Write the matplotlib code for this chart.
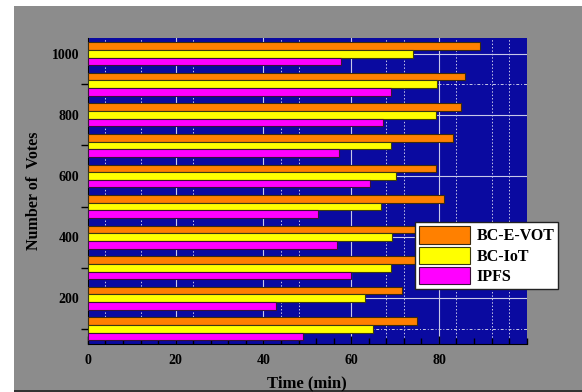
import numpy as np
import matplotlib
matplotlib.use("Agg")
import matplotlib.pyplot as plt
from matplotlib.ticker import MultipleLocator
from matplotlib.patches import Rectangle

votes = [100, 200, 300, 400, 500, 600, 700, 800, 900, 1000]
bc_e_vot = [74.9, 71.5, 76.5, 77.5, 81.2, 79.4, 83.3, 85.1, 85.9, 89.3]
bc_iot = [65.0, 63.2, 69.1, 69.3, 66.9, 70.1, 69.1, 79.4, 79.6, 74.1]
ipfs = [49.0, 42.9, 59.9, 56.8, 52.4, 64.3, 57.2, 67.3, 69.1, 57.7]

# dotted grid lines that show in the original
dotted_x = [4, 12, 24, 44, 48, 68, 72, 84, 92, 96]
dotted_y = [100, 900]

plt.rcParams["font.family"] = ["Liberation Serif", "DejaVu Serif"]
plt.rcParams["font.weight"] = "bold"

fig = plt.figure(figsize=(5.82, 3.92), dpi=100)
fig.patch.set_facecolor("white")
# grey panel with a dark edge at the bottom
fig.patches.append(Rectangle((14 / 582, 0.004), 1 - 14 / 582, 1 - 6 / 392 - 0.004,
                             transform=fig.transFigure, facecolor="#8c8c8c",
                             edgecolor="none", zorder=-10))
fig.patches.append(Rectangle((14 / 582, 0), 1 - 14 / 582, 0.005,
                             transform=fig.transFigure, facecolor="#333333",
                             edgecolor="none", zorder=-9))

ax = fig.add_axes([0.151, 0.122, 0.754, 0.780])
ax.set_facecolor("#0a0aa0")

y = np.array(votes)
h = 25
ax.barh(y + h, bc_e_vot, height=h, color="#ff8000", edgecolor="#3a2a10", linewidth=0.8, label="BC-E-VOT", zorder=3)
ax.barh(y, bc_iot, height=h, color="#ffff00", edgecolor="#3a3a10", linewidth=0.8, label="BC-IoT", zorder=3)
ax.barh(y - h, ipfs, height=h, color="#ff00ff", edgecolor="#3a103a", linewidth=0.8, label="IPFS", zorder=3)

ax.set_xlim(0, 100)
ax.set_ylim(50, 1050)
ax.set_xticks([0, 20, 40, 60, 80])
ax.xaxis.set_minor_locator(MultipleLocator(4))
ax.yaxis.set_major_locator(MultipleLocator(200))
ax.yaxis.set_minor_locator(MultipleLocator(100))

ax.grid(which="major", color="#c8c8e8", linewidth=0.8, zorder=1)
for v in dotted_x:
    ax.axvline(v, color="#c8c8e8", linewidth=0.7, linestyle=(0, (1.5, 2)), zorder=1)
for v in dotted_y:
    ax.axhline(v, color="#c8c8e8", linewidth=0.7, linestyle=(0, (3, 2, 1, 2)), zorder=1)

ax.tick_params(axis="x", which="major", direction="in", length=6, width=1, colors="black", labelsize=10, pad=7)
ax.tick_params(axis="x", which="minor", direction="in", length=4, width=1, colors="black")
ax.tick_params(axis="y", which="major", direction="in", length=0, labelsize=10, pad=6)
ax.tick_params(axis="y", which="minor", direction="out", length=5, width=1)

for s in ["top", "right"]:
    ax.spines[s].set_visible(False)
ax.spines["left"].set_color("black")
ax.spines["bottom"].set_color("black")

ax.set_xlabel("Time (min)", fontsize=12, fontweight="bold", labelpad=6)
ax.set_ylabel("Number of  Votes", fontsize=11.5, fontweight="bold", labelpad=7)

leg = ax.legend(loc="upper left", bbox_to_anchor=(0.745, 0.399), frameon=True, fancybox=False,
                fontsize=11.5, handlelength=3.2, handleheight=1.3, borderpad=0.25,
                labelspacing=0.15, handletextpad=0.4, borderaxespad=0)
leg.get_frame().set_edgecolor("#222222")
leg.get_frame().set_facecolor("white")
leg.get_frame().set_alpha(1)
leg.set_zorder(5)

plt.savefig("out.png", dpi=100)
